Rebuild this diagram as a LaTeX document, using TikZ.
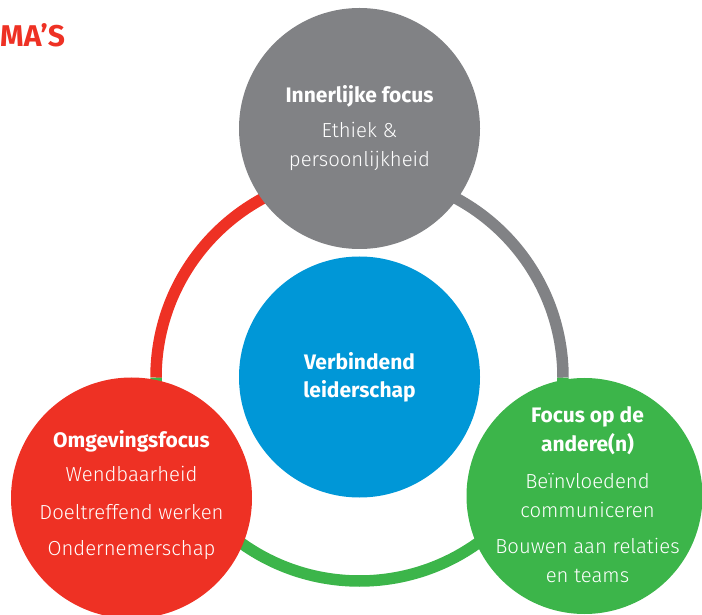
\documentclass[tikz,border=0pt]{standalone}
\usepackage{fontspec}
\IfFontExistsTF{Fira Sans Light}
  {\setmainfont{Fira Sans Light}[BoldFont={Fira Sans Bold}]}
  {\setmainfont{Fira Sans}}
\usetikzlibrary{positioning}
\definecolor{lsgrey}{RGB}{129,130,133}
\definecolor{lsred}{RGB}{238,49,36}
\definecolor{lsblue}{RGB}{0,151,215}
\definecolor{lsgreen}{RGB}{60,181,74}
\tikzstyle{ball} = [circle, draw=none, inner sep=0pt]
\tikzstyle{ringarc} = [line width=11.5pt]
\tikzstyle{headtxt} = [font=\bfseries\fontsize{21}{24}\selectfont, text=white, anchor=base, inner sep=0pt]
\tikzstyle{bodytxt} = [font=\fontsize{20.3}{24}\selectfont, text=white, anchor=base, inner sep=0pt]

\begin{document}
\begin{tikzpicture}[x=1pt, y=1pt]
    \useasboundingbox (0,0) rectangle (702,614);

    % Titel (afgesneden)
    \node[font=\bfseries\fontsize{30}{32}\selectfont, text=lsred, anchor=base west, inner sep=0pt] (titel) at (0,567) {MA’S};

    % Ring
    \coordinate (mid) at (359.5,236.5);
    \draw[ringarc, lsgreen] (mid) ++(180:203.5) arc[start angle=180, end angle=360, radius=203.5];
    \draw[ringarc, lsgrey] (mid) ++(0:203.5) arc[start angle=0, end angle=90, radius=203.5];
    \draw[ringarc, lsred] (mid) ++(90:203.5) arc[start angle=90, end angle=180, radius=203.5];

    % Verbindend leiderschap
    \node[ball, fill=lsblue, minimum size=241pt] (kern) at (359.5,237) {};
    \node[headtxt] (kern1) at (359.5,244) {Verbindend};
    \node[headtxt] (kern2) at (359.5,216) {leiderschap};

    % Innerlijke focus
    \node[ball, fill=lsgrey, minimum size=241pt] (inner) at (359.5,485.5) {};
    \node[headtxt] (inner1) at (359.5,511) {Innerlijke focus};
    \node[bodytxt] (inner2) at (359.5,476) {Ethiek \&};
    \node[bodytxt] (inner3) at (359.5,447) {persoonlijkheid};

    % Omgevingsfocus
    \node[ball, fill=lsred, minimum size=241pt] (omgeving) at (131.5,116) {};
    \node[headtxt] (omgeving1) at (131.5,167) {Omgevingsfocus};
    \node[bodytxt] (omgeving2) at (131.5,132) {Wendbaarheid};
    \node[bodytxt] (omgeving3) at (131.5,95) {Doeltreffend werken};
    \node[bodytxt] (omgeving4) at (131.5,59) {Ondernemerschap};

    % Focus op de andere(n)
    \node[ball, fill=lsgreen, minimum size=236pt] (andere) at (584.5,118) {};
    \node[headtxt] (andere1) at (587.5,191) {Focus op de};
    \node[headtxt] (andere2) at (587.5,162) {andere(n)};
    \node[bodytxt] (andere3) at (587.5,126) {Beïnvloedend};
    \node[bodytxt] (andere4) at (587.5,97) {communiceren};
    \node[bodytxt] (andere5) at (587.5,61) {Bouwen aan relaties};
    \node[bodytxt] (andere6) at (587.5,32) {en teams};
\end{tikzpicture}
\end{document}
